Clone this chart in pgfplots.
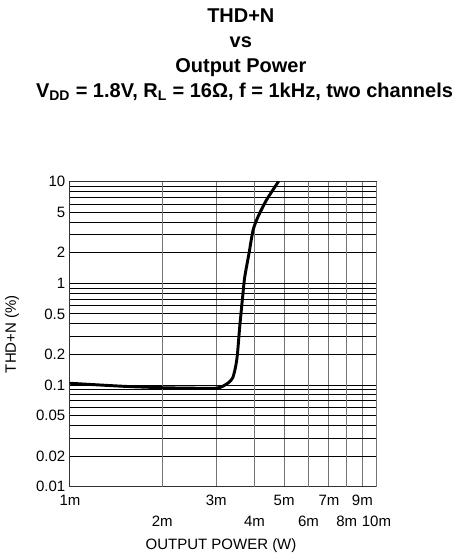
\documentclass[border=0pt]{standalone}
\usepackage{pgfplots}
\pgfplotsset{compat=1.18}
\usepackage{fontspec}
\setmainfont{Liberation Sans}

\begin{document}
\begin{tikzpicture}[x=1pt,y=1pt]
% page box: 472 x 557 px at 0.75pt/px, axis corner at (70,487) px
\path (-52.5,-52.5) rectangle (301.5,365.25);

\node[anchor=base,font=\bfseries\fontsize{15}{18}\selectfont] at (128.25,348) {THD+N};
\node[anchor=base,font=\bfseries\fontsize{15}{18}\selectfont] at (128.25,329.25) {vs};
\node[anchor=base,font=\bfseries\fontsize{15}{18}\selectfont] at (128.25,310.5) {Output Power};
\node[anchor=base,font=\bfseries\fontsize{15}{18}\selectfont] at (131,291.75)
  {V\textsubscript{DD} = 1.8V, R\textsubscript{L} = 16Ω, f = 1kHz, two channels};

\begin{axis}[
    at={(0,0)}, anchor=south west,
    scale only axis,
    width=230pt, height=229pt,
    xmode=log, ymode=log,
    xmin=1e-3, xmax=1e-2,
    ymin=0.01, ymax=10,
    axis line style={black!80, line width=0.8pt},
    major tick length=0, minor tick length=0,
    xtick={1e-3,3e-3,5e-3,7e-3,9e-3},
    xticklabels={1m,3m,5m,7m,9m},
    xticklabel style={yshift=-3pt},
    extra x ticks={2e-3,4e-3,6e-3,8e-3,1e-2},
    extra x tick labels={2m,4m,6m,8m,10m},
    extra x tick style={grid=major, xticklabel style={yshift=-15.75pt}},
    minor xtick={},
    ytick={0.01,0.02,0.05,0.1,0.2,0.5,1,2,5,10},
    yticklabels={0.01,0.02,0.05,0.1,0.2,0.5,1,2,5,10},
    minor ytick={0.03,0.04,0.06,0.07,0.08,0.09,0.3,0.4,0.6,0.7,0.8,0.9,3,4,6,7,8,9},
    grid=both,
    x grid style={gray!90!black, line width=0.8pt},
    y grid style={black, line width=0.6pt},
    tick label style={font=\fontsize{11.25}{13}\selectfont},
    xlabel={OUTPUT POWER (W)},
    ylabel={THD+N (\%)},
    label style={font=\fontsize{11.25}{13}\selectfont},
    xlabel style={at={(axis description cs:0.493,-0.193)}, anchor=center},
    ylabel style={at={(axis description cs:-0.189,0.5)}, anchor=center},
    clip=true,
]
\addplot[black, line width=2.2pt, smooth, tension=0.4] coordinates {
    (1e-3,0.104) (1.5e-3,0.097) (2e-3,0.094) (2.5e-3,0.093) (3e-3,0.093)
    (3.15e-3,0.097) (3.3e-3,0.106) (3.4e-3,0.118) (3.47e-3,0.15)
    (3.52e-3,0.2) (3.58e-3,0.37) (3.67e-3,0.8) (3.72e-3,1.16)
    (3.84e-3,1.97) (3.96e-3,3.34) (4.11e-3,4.52) (4.38e-3,6.6) (4.8e-3,10.1)
};
\end{axis}
\end{tikzpicture}
\end{document}
